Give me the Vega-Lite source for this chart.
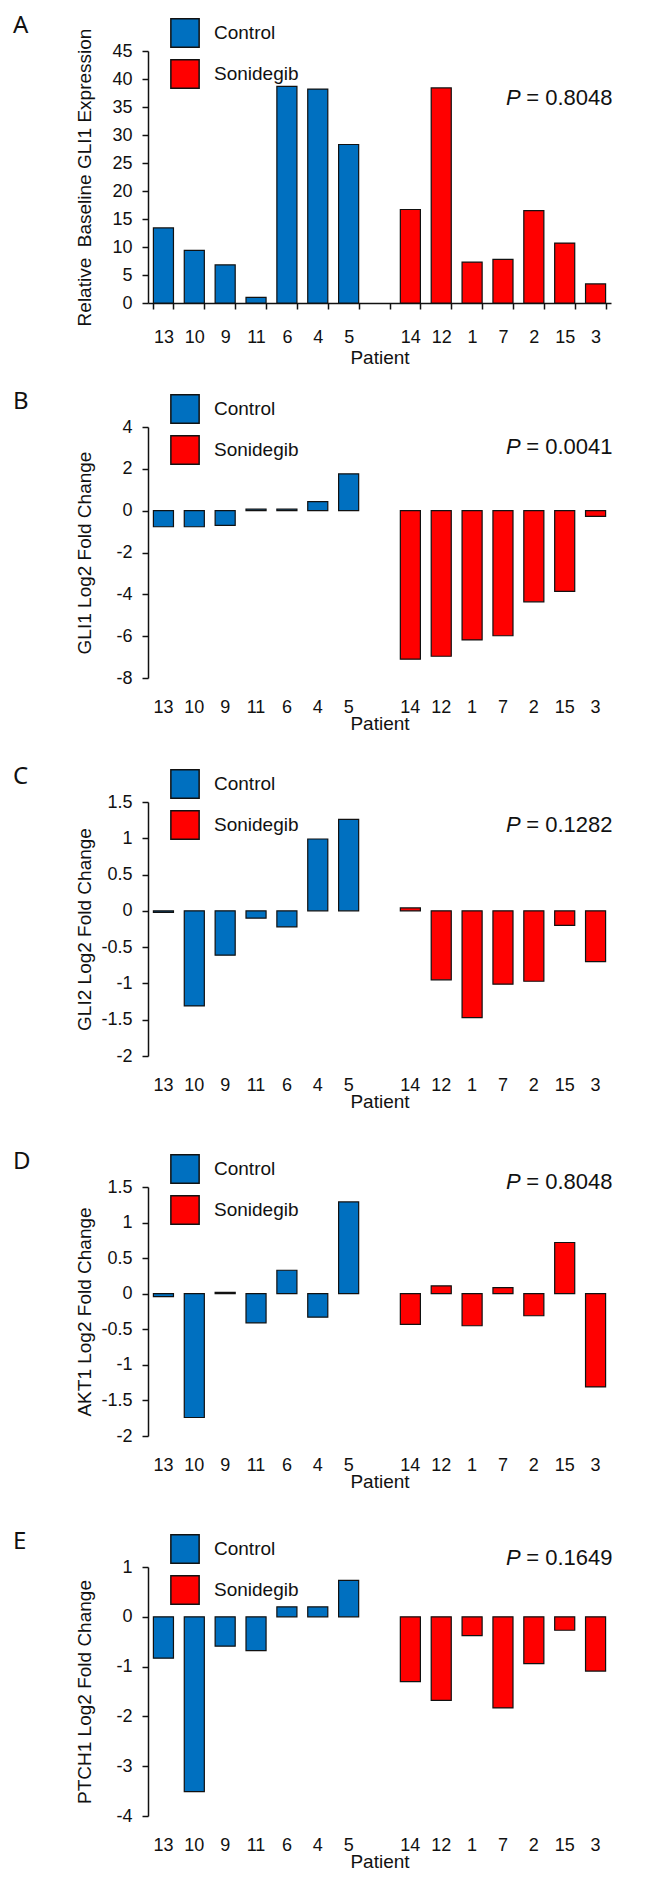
{
  "$schema": "https://vega.github.io/schema/vega-lite/v6.json",
  "padding": {"left": 13, "top": 14, "right": 5, "bottom": 5},
  "background": "white",
  "datasets": {
    "gli1base": [
      {"patient": "13", "group": "Control", "value": 13.4},
      {"patient": "10", "group": "Control", "value": 9.4},
      {"patient": "9", "group": "Control", "value": 6.8},
      {"patient": "11", "group": "Control", "value": 1.0},
      {"patient": "6", "group": "Control", "value": 38.7},
      {"patient": "4", "group": "Control", "value": 38.2},
      {"patient": "5", "group": "Control", "value": 28.3},
      {"patient": "14", "group": "Sonidegib", "value": 16.7},
      {"patient": "12", "group": "Sonidegib", "value": 38.4},
      {"patient": "1", "group": "Sonidegib", "value": 7.3},
      {"patient": "7", "group": "Sonidegib", "value": 7.8},
      {"patient": "2", "group": "Sonidegib", "value": 16.5},
      {"patient": "15", "group": "Sonidegib", "value": 10.7},
      {"patient": "3", "group": "Sonidegib", "value": 3.4}
    ],
    "gli1": [
      {"patient": "13", "group": "Control", "value": -0.77},
      {"patient": "10", "group": "Control", "value": -0.77},
      {"patient": "9", "group": "Control", "value": -0.7},
      {"patient": "11", "group": "Control", "value": 0.07},
      {"patient": "6", "group": "Control", "value": 0.07},
      {"patient": "4", "group": "Control", "value": 0.43},
      {"patient": "5", "group": "Control", "value": 1.76},
      {"patient": "14", "group": "Sonidegib", "value": -7.1},
      {"patient": "12", "group": "Sonidegib", "value": -6.96},
      {"patient": "1", "group": "Sonidegib", "value": -6.18},
      {"patient": "7", "group": "Sonidegib", "value": -5.98},
      {"patient": "2", "group": "Sonidegib", "value": -4.36},
      {"patient": "15", "group": "Sonidegib", "value": -3.86},
      {"patient": "3", "group": "Sonidegib", "value": -0.27}
    ],
    "gli2": [
      {"patient": "13", "group": "Control", "value": -0.02},
      {"patient": "10", "group": "Control", "value": -1.31},
      {"patient": "9", "group": "Control", "value": -0.61},
      {"patient": "11", "group": "Control", "value": -0.1},
      {"patient": "6", "group": "Control", "value": -0.22},
      {"patient": "4", "group": "Control", "value": 0.99},
      {"patient": "5", "group": "Control", "value": 1.26},
      {"patient": "14", "group": "Sonidegib", "value": 0.04},
      {"patient": "12", "group": "Sonidegib", "value": -0.95},
      {"patient": "1", "group": "Sonidegib", "value": -1.47},
      {"patient": "7", "group": "Sonidegib", "value": -1.01},
      {"patient": "2", "group": "Sonidegib", "value": -0.97},
      {"patient": "15", "group": "Sonidegib", "value": -0.2},
      {"patient": "3", "group": "Sonidegib", "value": -0.7}
    ],
    "akt1": [
      {"patient": "13", "group": "Control", "value": -0.04},
      {"patient": "10", "group": "Control", "value": -1.74},
      {"patient": "9", "group": "Control", "value": 0.02},
      {"patient": "11", "group": "Control", "value": -0.41},
      {"patient": "6", "group": "Control", "value": 0.33},
      {"patient": "4", "group": "Control", "value": -0.33},
      {"patient": "5", "group": "Control", "value": 1.29},
      {"patient": "14", "group": "Sonidegib", "value": -0.43},
      {"patient": "12", "group": "Sonidegib", "value": 0.11},
      {"patient": "1", "group": "Sonidegib", "value": -0.45},
      {"patient": "7", "group": "Sonidegib", "value": 0.085},
      {"patient": "2", "group": "Sonidegib", "value": -0.31},
      {"patient": "15", "group": "Sonidegib", "value": 0.72},
      {"patient": "3", "group": "Sonidegib", "value": -1.31}
    ],
    "ptch1": [
      {"patient": "13", "group": "Control", "value": -0.83},
      {"patient": "10", "group": "Control", "value": -3.51},
      {"patient": "9", "group": "Control", "value": -0.59},
      {"patient": "11", "group": "Control", "value": -0.68},
      {"patient": "6", "group": "Control", "value": 0.2},
      {"patient": "4", "group": "Control", "value": 0.2},
      {"patient": "5", "group": "Control", "value": 0.73},
      {"patient": "14", "group": "Sonidegib", "value": -1.3},
      {"patient": "12", "group": "Sonidegib", "value": -1.68},
      {"patient": "1", "group": "Sonidegib", "value": -0.38},
      {"patient": "7", "group": "Sonidegib", "value": -1.83},
      {"patient": "2", "group": "Sonidegib", "value": -0.94},
      {"patient": "15", "group": "Sonidegib", "value": -0.27},
      {"patient": "3", "group": "Sonidegib", "value": -1.09}
    ]
  },
  "config": {
    "view": {"stroke": null},
    "font": "Liberation Sans",
    "axis": {
      "labelFont": "Liberation Sans", "labelFontSize": 18, "labelColor": "#111", "labelOverlap": false,
      "titleFont": "Liberation Sans", "titleFontSize": 19, "titleFontWeight": "normal", "titleColor": "#111",
      "domainColor": "#111", "domainWidth": 1.5, "tickColor": "#111", "tickWidth": 1.5, "tickSize": 6, "grid": false
    },
    "axisX": {"labelAngle": 0, "title": "Patient"},
    "axisY": {"labelPadding": 10, "titleX": -58, "titleBaseline": "alphabetic", "labelExpr": "'' + datum.value"},
    "legend": {
      "orient": "none", "legendX": 22, "legendY": -33, "symbolType": "square", "symbolSize": 800,
      "symbolStrokeColor": "#111", "symbolStrokeWidth": 1.5, "symbolOpacity": 1,
      "labelFont": "Liberation Sans", "labelFontSize": 19, "labelColor": "#111", "labelOffset": 14, "rowPadding": 5
    },
    "title": {"font": "Noto Sans", "fontSize": 24, "fontWeight": "normal", "color": "#111", "anchor": "start", "frame": "group", "dx": -135, "dy": 34, "offset": 14}
  },
  "bounds": "flush",
  "spacing": 124,
  "resolve": {"scale": {"x": "independent", "y": "independent", "color": "independent"}, "legend": {"color": "independent"}},
  "vconcat": [
    {
      "width": 463, "height": 252,
      "title": {"text": "A"},
      "layer": [
        {
          "data": {"name": "gli1base"},
          "mark": {"type": "bar", "stroke": "#111", "strokeWidth": 1.2},
          "encoding": {
            "x": {"field": "patient", "type": "nominal", "sort": null,
              "scale": {"domain": ["13","10","9","11","6","4","5"," ","14","12","1","7","2","15","3"], "paddingInner": 0.35, "paddingOuter": 0.175},
              "axis": {"title": "Patient", "tickBand": "extent", "labelPadding": 19, "titlePadding": 2}},
            "y": {"field": "value", "type": "quantitative", "scale": {"domain": [0, 45], "nice": false},
              "axis": {"values": [0,5,10,15,20,25,30,35,40,45], "title": "Relative\u00a0\u00a0Baseline GLI1 Expression"}},
            "color": {"field": "group", "type": "nominal", "scale": {"domain": ["Control","Sonidegib"], "range": ["#0070C0","#FF0000"]}, "legend": {"title": null}}
          }
        },
        {
          "data": {"values": [{"p": "P", "v": "= 0.8048"}]},
          "mark": {"type": "text", "align": "right", "baseline": "middle", "fontSize": 22, "font": "Liberation Sans", "dx": 17, "color": "#111"},
          "encoding": {
            "x": {"datum": "3", "type": "nominal", "axis": {"title": "Patient", "tickBand": "extent", "labelPadding": 19, "titlePadding": 2}},
            "y": {"datum": 36.6, "type": "quantitative", "axis": {"values": [0,5,10,15,20,25,30,35,40,45], "title": "Relative\u00a0\u00a0Baseline GLI1 Expression"}},
            "text": {"field": "v"}}
        },
        {
          "data": {"values": [{"p": "P", "v": "= 0.8048"}]},
          "mark": {"type": "text", "align": "right", "baseline": "middle", "fontSize": 22, "font": "Liberation Sans", "fontStyle": "italic", "dx": -75, "color": "#111"},
          "encoding": {
            "x": {"datum": "3", "type": "nominal", "axis": {"title": "Patient", "tickBand": "extent", "labelPadding": 19, "titlePadding": 2}},
            "y": {"datum": 36.6, "type": "quantitative", "axis": {"values": [0,5,10,15,20,25,30,35,40,45], "title": "Relative\u00a0\u00a0Baseline GLI1 Expression"}},
            "text": {"field": "p"}}
        }
      ]
    },
    {
      "width": 463, "height": 251,
      "title": {"text": "B"},
      "layer": [
        {
          "data": {"name": "gli1"},
          "mark": {"type": "bar", "stroke": "#111", "strokeWidth": 1.2},
          "encoding": {
            "x": {"field": "patient", "type": "nominal", "sort": null,
              "scale": {"domain": ["13","10","9","11","6","4","5"," ","14","12","1","7","2","15","3"], "paddingInner": 0.35, "paddingOuter": 0.175},
              "axis": {"title": "Patient", "ticks": false, "domain": false, "labelPadding": 20, "titlePadding": -2}},
            "y": {"field": "value", "type": "quantitative", "scale": {"domain": [-8, 4], "nice": false},
              "axis": {"values": [-8,-6,-4,-2,0,2,4], "title": "GLI1 Log2 Fold Change"}},
            "color": {"field": "group", "type": "nominal", "scale": {"domain": ["Control","Sonidegib"], "range": ["#0070C0","#FF0000"]}, "legend": {"title": null}}
          }
        },
        {"mark": {"type": "rule", "color": "#111", "strokeWidth": 1.5},
          "encoding": {"y": {"datum": 0, "type": "quantitative", "axis": {"values": [-8,-6,-4,-2,0,2,4], "title": "GLI1 Log2 Fold Change"}}}},
        {
          "data": {"values": [{"p": "P", "v": "= 0.0041"}]},
          "mark": {"type": "text", "align": "right", "baseline": "middle", "fontSize": 22, "font": "Liberation Sans", "dx": 17, "color": "#111"},
          "encoding": {
            "x": {"datum": "3", "type": "nominal", "axis": {"title": "Patient", "ticks": false, "domain": false, "labelPadding": 20, "titlePadding": -2}},
            "y": {"datum": 3.04, "type": "quantitative", "axis": {"values": [-8,-6,-4,-2,0,2,4], "title": "GLI1 Log2 Fold Change"}},
            "text": {"field": "v"}}
        },
        {
          "data": {"values": [{"p": "P", "v": "= 0.0041"}]},
          "mark": {"type": "text", "align": "right", "baseline": "middle", "fontSize": 22, "font": "Liberation Sans", "fontStyle": "italic", "dx": -75, "color": "#111"},
          "encoding": {
            "x": {"datum": "3", "type": "nominal", "axis": {"title": "Patient", "ticks": false, "domain": false, "labelPadding": 20, "titlePadding": -2}},
            "y": {"datum": 3.04, "type": "quantitative", "axis": {"values": [-8,-6,-4,-2,0,2,4], "title": "GLI1 Log2 Fold Change"}},
            "text": {"field": "p"}}
        }
      ]
    },
    {
      "bounds": "flush",
      "spacing": 131,
      "resolve": {"scale": {"x": "independent", "y": "independent", "color": "independent"}, "legend": {"color": "independent"}},
      "vconcat": [
        {
          "width": 463, "height": 254,
          "title": {"text": "C"},
          "layer": [
            {
              "data": {"name": "gli2"},
              "mark": {"type": "bar", "stroke": "#111", "strokeWidth": 1.2},
              "encoding": {
                "x": {"field": "patient", "type": "nominal", "sort": null,
                  "scale": {"domain": ["13","10","9","11","6","4","5"," ","14","12","1","7","2","15","3"], "paddingInner": 0.35, "paddingOuter": 0.175},
                  "axis": {"title": "Patient", "ticks": false, "domain": false, "labelPadding": 20, "titlePadding": -2}},
                "y": {"field": "value", "type": "quantitative", "scale": {"domain": [-2, 1.5], "nice": false},
                  "axis": {"values": [-2,-1.5,-1,-0.5,0,0.5,1,1.5], "title": "GLI2 Log2 Fold Change"}},
                "color": {"field": "group", "type": "nominal", "scale": {"domain": ["Control","Sonidegib"], "range": ["#0070C0","#FF0000"]}, "legend": {"title": null}}
              }
            },
            {"mark": {"type": "rule", "color": "#111", "strokeWidth": 1.5},
              "encoding": {"y": {"datum": 0, "type": "quantitative", "axis": {"values": [-2,-1.5,-1,-0.5,0,0.5,1,1.5], "title": "GLI2 Log2 Fold Change"}}}},
            {
              "data": {"values": [{"p": "P", "v": "= 0.1282"}]},
              "mark": {"type": "text", "align": "right", "baseline": "middle", "fontSize": 22, "font": "Liberation Sans", "dx": 17, "color": "#111"},
              "encoding": {
                "x": {"datum": "3", "type": "nominal", "axis": {"title": "Patient", "ticks": false, "domain": false, "labelPadding": 20, "titlePadding": -2}},
                "y": {"datum": 1.18, "type": "quantitative", "axis": {"values": [-2,-1.5,-1,-0.5,0,0.5,1,1.5], "title": "GLI2 Log2 Fold Change"}},
                "text": {"field": "v"}}
            },
            {
              "data": {"values": [{"p": "P", "v": "= 0.1282"}]},
              "mark": {"type": "text", "align": "right", "baseline": "middle", "fontSize": 22, "font": "Liberation Sans", "fontStyle": "italic", "dx": -75, "color": "#111"},
              "encoding": {
                "x": {"datum": "3", "type": "nominal", "axis": {"title": "Patient", "ticks": false, "domain": false, "labelPadding": 20, "titlePadding": -2}},
                "y": {"datum": 1.18, "type": "quantitative", "axis": {"values": [-2,-1.5,-1,-0.5,0,0.5,1,1.5], "title": "GLI2 Log2 Fold Change"}},
                "text": {"field": "p"}}
            }
          ]
        },
        {
          "width": 463, "height": 249,
          "title": {"text": "D"},
          "layer": [
            {
              "data": {"name": "akt1"},
              "mark": {"type": "bar", "stroke": "#111", "strokeWidth": 1.2},
              "encoding": {
                "x": {"field": "patient", "type": "nominal", "sort": null,
                  "scale": {"domain": ["13","10","9","11","6","4","5"," ","14","12","1","7","2","15","3"], "paddingInner": 0.35, "paddingOuter": 0.175},
                  "axis": {"title": "Patient", "ticks": false, "domain": false, "labelPadding": 20, "titlePadding": -2}},
                "y": {"field": "value", "type": "quantitative", "scale": {"domain": [-2, 1.5], "nice": false},
                  "axis": {"values": [-2,-1.5,-1,-0.5,0,0.5,1,1.5], "title": "AKT1 Log2 Fold Change"}},
                "color": {"field": "group", "type": "nominal", "scale": {"domain": ["Control","Sonidegib"], "range": ["#0070C0","#FF0000"]}, "legend": {"title": null}}
              }
            },
            {"mark": {"type": "rule", "color": "#111", "strokeWidth": 1.5},
              "encoding": {"y": {"datum": 0, "type": "quantitative", "axis": {"values": [-2,-1.5,-1,-0.5,0,0.5,1,1.5], "title": "AKT1 Log2 Fold Change"}}}},
            {
              "data": {"values": [{"p": "P", "v": "= 0.8048"}]},
              "mark": {"type": "text", "align": "right", "baseline": "middle", "fontSize": 22, "font": "Liberation Sans", "dx": 17, "color": "#111"},
              "encoding": {
                "x": {"datum": "3", "type": "nominal", "axis": {"title": "Patient", "ticks": false, "domain": false, "labelPadding": 20, "titlePadding": -2}},
                "y": {"datum": 1.57, "type": "quantitative", "axis": {"values": [-2,-1.5,-1,-0.5,0,0.5,1,1.5], "title": "AKT1 Log2 Fold Change"}},
                "text": {"field": "v"}}
            },
            {
              "data": {"values": [{"p": "P", "v": "= 0.8048"}]},
              "mark": {"type": "text", "align": "right", "baseline": "middle", "fontSize": 22, "font": "Liberation Sans", "fontStyle": "italic", "dx": -75, "color": "#111"},
              "encoding": {
                "x": {"datum": "3", "type": "nominal", "axis": {"title": "Patient", "ticks": false, "domain": false, "labelPadding": 20, "titlePadding": -2}},
                "y": {"datum": 1.57, "type": "quantitative", "axis": {"values": [-2,-1.5,-1,-0.5,0,0.5,1,1.5], "title": "AKT1 Log2 Fold Change"}},
                "text": {"field": "p"}}
            }
          ]
        },
        {
          "width": 463, "height": 249,
          "title": {"text": "E"},
          "layer": [
            {
              "data": {"name": "ptch1"},
              "mark": {"type": "bar", "stroke": "#111", "strokeWidth": 1.2},
              "encoding": {
                "x": {"field": "patient", "type": "nominal", "sort": null,
                  "scale": {"domain": ["13","10","9","11","6","4","5"," ","14","12","1","7","2","15","3"], "paddingInner": 0.35, "paddingOuter": 0.175},
                  "axis": {"title": "Patient", "ticks": false, "domain": false, "labelPadding": 20, "titlePadding": -2}},
                "y": {"field": "value", "type": "quantitative", "scale": {"domain": [-4, 1], "nice": false},
                  "axis": {"values": [-4,-3,-2,-1,0,1], "title": "PTCH1 Log2 Fold Change"}},
                "color": {"field": "group", "type": "nominal", "scale": {"domain": ["Control","Sonidegib"], "range": ["#0070C0","#FF0000"]}, "legend": {"title": null}}
              }
            },
            {"mark": {"type": "rule", "color": "#111", "strokeWidth": 1.5},
              "encoding": {"y": {"datum": 0, "type": "quantitative", "axis": {"values": [-4,-3,-2,-1,0,1], "title": "PTCH1 Log2 Fold Change"}}}},
            {
              "data": {"values": [{"p": "P", "v": "= 0.1649"}]},
              "mark": {"type": "text", "align": "right", "baseline": "middle", "fontSize": 22, "font": "Liberation Sans", "dx": 17, "color": "#111"},
              "encoding": {
                "x": {"datum": "3", "type": "nominal", "axis": {"title": "Patient", "ticks": false, "domain": false, "labelPadding": 20, "titlePadding": -2}},
                "y": {"datum": 1.18, "type": "quantitative", "axis": {"values": [-4,-3,-2,-1,0,1], "title": "PTCH1 Log2 Fold Change"}},
                "text": {"field": "v"}}
            },
            {
              "data": {"values": [{"p": "P", "v": "= 0.1649"}]},
              "mark": {"type": "text", "align": "right", "baseline": "middle", "fontSize": 22, "font": "Liberation Sans", "fontStyle": "italic", "dx": -75, "color": "#111"},
              "encoding": {
                "x": {"datum": "3", "type": "nominal", "axis": {"title": "Patient", "ticks": false, "domain": false, "labelPadding": 20, "titlePadding": -2}},
                "y": {"datum": 1.18, "type": "quantitative", "axis": {"values": [-4,-3,-2,-1,0,1], "title": "PTCH1 Log2 Fold Change"}},
                "text": {"field": "p"}}
            }
          ]
        }
      ]
    }
  ]
}
